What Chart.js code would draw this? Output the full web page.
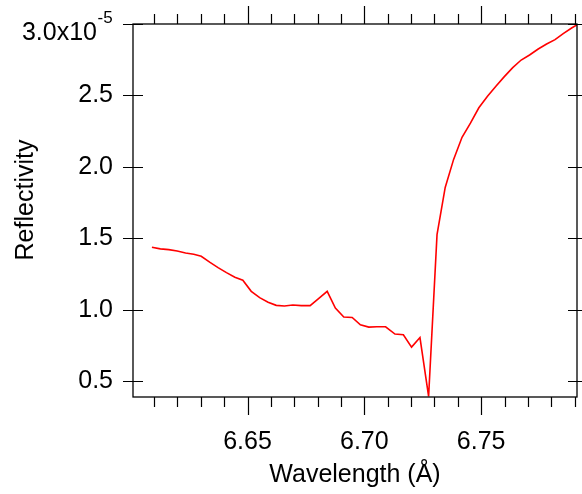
<!DOCTYPE html>
<html>
<head>
<meta charset="utf-8">
<script src="https://cdn.jsdelivr.net/npm/chart.js@4.4.1/dist/chart.umd.min.js"></script>
<style>
  html, body { margin: 0; padding: 0; background: #fff; }
  canvas { display: block; }
</style>
</head>
<body>
<canvas id="chart" width="582" height="494"></canvas>
<script>
// wavelength in Angstrom, reflectivity in units of 1e-5
var wavelength = [6.6091, 6.6127, 6.6163, 6.6199, 6.6235, 6.6270, 6.6302, 6.6338, 6.6374, 6.6410,
  6.6446, 6.6480, 6.6516, 6.6552, 6.6588, 6.6623, 6.6658, 6.6694, 6.6730, 6.6768,
  6.6804, 6.6841, 6.6876, 6.6912, 6.6948, 6.6983, 6.7019, 6.7054, 6.7091, 6.7131,
  6.7167, 6.7202, 6.7238, 6.7275, 6.7311, 6.7346, 6.7382, 6.7418, 6.7454, 6.7490,
  6.7527, 6.7563, 6.7599, 6.7635, 6.7671, 6.7707, 6.7744, 6.7780, 6.7816, 6.7851,
  6.7887, 6.7909];
var reflectivity = [1.438, 1.427, 1.422, 1.412, 1.398, 1.389, 1.375, 1.334, 1.296, 1.261,
  1.229, 1.208, 1.130, 1.086, 1.054, 1.032, 1.028, 1.035, 1.030, 1.030,
  1.079, 1.130, 1.013, 0.950, 0.947, 0.896, 0.880, 0.882, 0.882, 0.831,
  0.826, 0.740, 0.807, 0.395, 1.527, 1.857, 2.053, 2.208, 2.306, 2.414,
  2.495, 2.565, 2.632, 2.695, 2.748, 2.783, 2.825, 2.860, 2.891, 2.933,
  2.972, 2.993];

var xMajorTicks = [6.65, 6.70, 6.75];
var xTickLabels = ['6.65', '6.70', '6.75'];
var xMinorTicks = [6.61, 6.62, 6.63, 6.64, 6.66, 6.67, 6.68, 6.69, 6.71, 6.72, 6.73, 6.74,
  6.76, 6.77, 6.78, 6.79];
var yTicks = [0.5, 1.0, 1.5, 2.0, 2.5];
var yTickLabels = ['0.5', '1.0', '1.5', '2.0', '2.5'];
var yTopTick = 3.0;
var yTopLabel = '3.0x10';
var yTopExponent = '-5';

var FONT = "'Liberation Sans', Arial, sans-serif";
Chart.defaults.font.family = FONT;
Chart.defaults.color = '#000';

function noPad(s) {
  s.paddingTop = 0; s.paddingBottom = 0; s.paddingLeft = 0; s.paddingRight = 0;
}

var plotFrame = {
  id: 'plotFrame',
  afterDatasetsDraw: function (chart) {
    var ctx = chart.ctx;
    var a = chart.chartArea;
    var x = chart.scales.x;
    var y = chart.scales.y;
    ctx.save();
    ctx.strokeStyle = '#000';
    ctx.lineWidth = 1.3;
    ctx.strokeRect(a.left, a.top, a.right - a.left, a.bottom - a.top);

    ctx.lineWidth = 1.2;
    ctx.beginPath();
    xMinorTicks.forEach(function (v) {
      var px = Math.round(x.getPixelForValue(v)) + 0.5;
      ctx.moveTo(px, a.bottom); ctx.lineTo(px, a.bottom + 10);
      ctx.moveTo(px, a.top); ctx.lineTo(px, a.top - 10);
    });
    xMajorTicks.forEach(function (v) {
      var px = Math.round(x.getPixelForValue(v)) + 0.5;
      ctx.moveTo(px, a.bottom); ctx.lineTo(px, a.bottom + 18);
      ctx.moveTo(px, a.top); ctx.lineTo(px, a.top - 18);
    });
    yTicks.concat([yTopTick]).forEach(function (v) {
      var py = Math.round(y.getPixelForValue(v)) + 0.5;
      ctx.moveTo(a.left - 10, py); ctx.lineTo(a.left + 10, py);
      ctx.moveTo(a.right - 9, py); ctx.lineTo(a.right + 6, py);
    });
    ctx.stroke();

    // top label with exponent
    var ty = y.getPixelForValue(yTopTick);
    ctx.fillStyle = '#000';
    ctx.font = '25px ' + FONT;
    ctx.textAlign = 'right';
    ctx.textBaseline = 'alphabetic';
    ctx.fillText(yTopLabel, 97, ty + 16);
    ctx.font = '17px ' + FONT;
    ctx.textAlign = 'left';
    ctx.fillText(yTopExponent, 97.5, ty - 1.5);

    // y axis title
    ctx.translate(32.5, 200);
    ctx.rotate(-Math.PI / 2);
    ctx.font = '25px ' + FONT;
    ctx.textAlign = 'center';
    ctx.fillText('Reflectivity', 0, 0);
    ctx.restore();
  }
};

var chart = new Chart(document.getElementById('chart'), {
  type: 'line',
  data: {
    datasets: [{
      data: wavelength.map(function (w, i) { return { x: w, y: reflectivity[i] }; }),
      borderColor: '#ff0000',
      borderWidth: 1.6,
      pointRadius: 0,
      tension: 0,
      fill: false
    }]
  },
  options: {
    responsive: false,
    animation: false,
    devicePixelRatio: 1,
    layout: { padding: 0 },
    plugins: { legend: { display: false }, tooltip: { enabled: false } },
    scales: {
      x: {
        type: 'linear',
        position: 'bottom',
        min: 6.601,
        max: 6.791,
        grid: { display: false, drawTicks: false },
        border: { display: false },
        afterBuildTicks: function (s) {
          s.ticks = xMajorTicks.map(function (v) { return { value: v }; });
        },
        ticks: {
          autoSkip: false,
          maxRotation: 0,
          padding: 30,
          font: { size: 25 },
          callback: function (v, i) { return xTickLabels[i]; }
        },
        title: {
          display: true,
          text: 'Wavelength (Å)',
          font: { size: 25 },
          padding: { top: 0, bottom: 4 }
        },
        afterFit: function (s) { s.height = 97; noPad(s); }
      },
      xTop: {
        type: 'linear',
        position: 'top',
        min: 6.601,
        max: 6.791,
        grid: { display: false, drawTicks: false },
        border: { display: false },
        ticks: { display: false },
        afterFit: function (s) { s.height = 24; noPad(s); }
      },
      y: {
        type: 'linear',
        position: 'left',
        min: 0.391,
        max: 3.0,
        grid: { display: false, drawTicks: false },
        border: { display: false },
        afterBuildTicks: function (s) {
          s.ticks = yTicks.map(function (v) { return { value: v }; });
        },
        ticks: {
          autoSkip: false,
          padding: 20,
          font: { size: 25 },
          callback: function (v, i) { return yTickLabels[i]; }
        },
        afterFit: function (s) { s.width = 133; noPad(s); }
      },
      yRight: {
        type: 'linear',
        position: 'right',
        min: 0.391,
        max: 3.0,
        grid: { display: false, drawTicks: false },
        border: { display: false },
        ticks: { display: false },
        afterFit: function (s) { s.width = 5; noPad(s); }
      }
    }
  },
  plugins: [plotFrame]
});
</script>
</body>
</html>
